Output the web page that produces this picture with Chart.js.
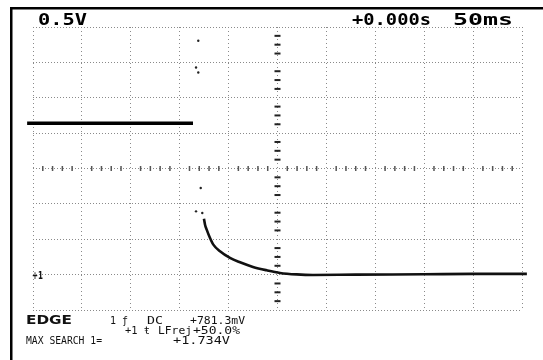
<!DOCTYPE html>
<html>
<head>
<meta charset="utf-8">
<script src="https://cdn.jsdelivr.net/npm/chart.js@4.4.1/dist/chart.umd.min.js"></script>
<style>
html,body{margin:0;padding:0;background:#fff;}
canvas{display:block;}
</style>
</head>
<body>
<canvas id="c" width="543" height="360"></canvas>
<script>
// ---- data (time in ms relative to trigger, voltage in V) ----
const highT = [-256, -86.4];
const highV = [2.14, 2.14];
const decayT = [-75.2, -74.1, -72.4, -69.0, -65.6, -58.8, -48.6, -38.3, -25.1, -11.0, 2.6, 19.6, 36.3, 80, 150, 200, 255];
const decayV = [0.79, 0.706, 0.636, 0.518, 0.424, 0.329, 0.236, 0.174, 0.109, 0.061, 0.024, 0.003, -0.005, 0.0, 0.005, 0.01, 0.01];
const noiseT = [-81.0, -83.3, -81.0, -78.5, -83.3, -76.9];
const noiseV = [3.305, 2.928, 2.857, 1.225, 0.894, 0.871];
const xTicks = [-250, -200, -150, -100, -50, 0, 50, 100, 150, 200, 250];
const yTicks = [-0.5, 0, 0.5, 1.0, 1.5, 2.0, 2.5, 3.0, 3.5];
const headerLabels = ["0.5V", "+0.000s", "50ms"];
const footerLabels = ["EDGE", "1 ƒ", "DC", "+781.3mV", "+1 ŧ", "LFrej", "+50.0%", "MAX SEARCH 1=", "+1.734V"];

const pts = (t, v) => t.map((x, i) => ({x: x, y: v[i]}));

const decorPlugin = {
  id: 'decor',
  beforeDatasetsDraw(chart) {
    const ctx = chart.ctx, xs = chart.scales.x, ys = chart.scales.y;
    const cx = xs.getPixelForValue(0), cy = ys.getPixelForValue(1.5);
    ctx.save();
    ctx.fillStyle = '#222';
    for (let k = 0; k <= 32; k++) {
      if (k % 4 === 0) continue;
      const v = -0.5 + k * 0.125;
      const py = ys.getPixelForValue(v);
      ctx.fillRect(cx - 3, py - 1, 6, 2);
    }
    ctx.fillStyle = '#555';
    for (let k = 0; k <= 50; k++) {
      if (k % 5 === 0) continue;
      const t = -250 + k * 10;
      const px = xs.getPixelForValue(t);
      ctx.fillRect(px - 0.75, cy - 2.5, 1.5, 5);
    }
    ctx.restore();
  },
  afterDraw(chart) {
    const ctx = chart.ctx;
    ctx.save();
    ctx.fillStyle = '#000';
    ctx.fillRect(10, 7, 533, 2.5);
    ctx.fillRect(10, 7, 2.5, 353);
    ctx.fillStyle = '#000';
    ctx.textBaseline = 'alphabetic';
    const fit = (txt, x, base, w, font) => {
      ctx.font = font;
      const m = ctx.measureText(txt).width;
      ctx.save();
      ctx.translate(x, base);
      ctx.scale(w / m, 1);
      ctx.fillText(txt, 0, 0);
      ctx.restore();
    };
    const big = 'bold 16.5px "DejaVu Sans Mono"';
    fit(headerLabels[0], 38, 24.5, 49, big);
    fit(headerLabels[1], 352, 24.5, 79, big);
    fit(headerLabels[2], 453, 24.5, 60, big);
    const sm = '10px "DejaVu Sans Mono"';
    ctx.fillStyle = '#111';
    fit(footerLabels[0], 26, 323.5, 46, 'bold 12.5px "DejaVu Sans"');
    fit(footerLabels[1], 110, 323.5, 18, sm);
    fit(footerLabels[2], 147, 323.5, 16, sm);
    fit(footerLabels[3], 190, 323.5, 55, sm);
    fit(footerLabels[4], 125, 334, 25, sm);
    fit(footerLabels[5], 158, 334, 34, sm);
    fit(footerLabels[6], 193, 334, 47, sm);
    fit(footerLabels[7], 26, 344, 76, sm);
    fit(footerLabels[8], 173, 344, 57, sm);
    const ys = chart.scales.y;
    const gy = ys.getPixelForValue(0);
    fit('+1', 32, gy + 4, 11, 'bold 10px "DejaVu Sans"');
    ctx.restore();
  }
};

new Chart(document.getElementById('c'), {
  type: 'scatter',
  data: {
    datasets: [
      {data: pts(highT, highV), showLine: true, borderColor: '#000', borderWidth: 3.5, pointRadius: 0, clip: false},
      {data: pts(decayT, decayV), showLine: true, borderColor: '#111', borderWidth: 2.6, pointRadius: 0, cubicInterpolationMode: 'monotone', clip: false},
      {data: pts(noiseT, noiseV), showLine: false, pointRadius: 1.2, pointBackgroundColor: '#222', pointBorderWidth: 0, clip: false}
    ]
  },
  options: {
    responsive: false,
    animation: false,
    events: [],
    layout: {padding: {left: 33, top: 27, right: 21, bottom: 50}},
    plugins: {legend: {display: false}, tooltip: {enabled: false}},
    scales: {
      x: {
        type: 'linear', min: -250, max: 250,
        afterBuildTicks: (s) => { s.ticks = xTicks.map(v => ({value: v})); },
        ticks: {display: false},
        grid: {color: '#8a8a8a', lineWidth: 1, drawTicks: false},
        border: {display: false, dash: [1, 3]}
      },
      y: {
        type: 'linear', min: -0.5, max: 3.5,
        afterBuildTicks: (s) => { s.ticks = yTicks.map(v => ({value: v})); },
        ticks: {display: false},
        grid: {color: '#8a8a8a', lineWidth: 1, drawTicks: false},
        border: {display: false, dash: [1, 2]}
      }
    }
  },
  plugins: [decorPlugin]
});
</script>
</body>
</html>
